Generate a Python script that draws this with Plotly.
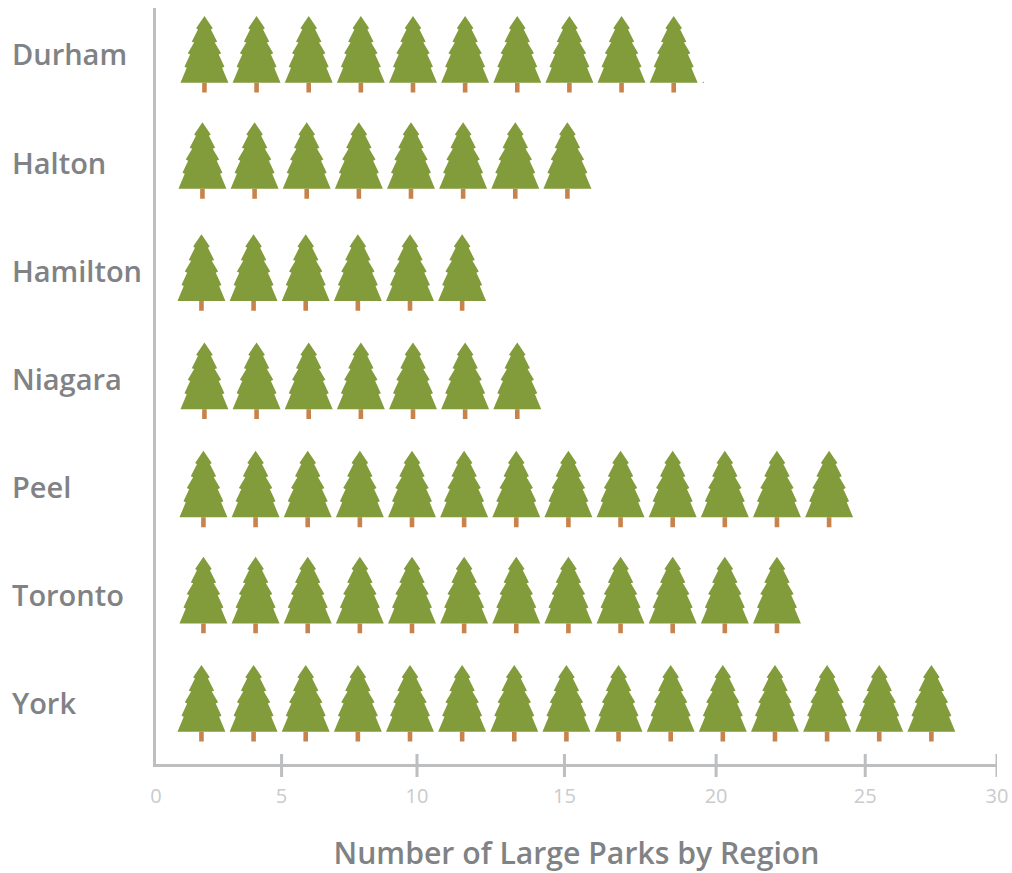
import math
import plotly.graph_objects as go

# ---- data ----
categories = ["Durham", "Halton", "Hamilton", "Niagara", "Peel", "Toronto", "York"]
row_lengths = [19.55, 15.6, 11.85, 13.8, 24.8, 23.0, 28.45]
tick_labels = ["0", "5", "10", "15", "20", "25", "30"]
tick_positions = [0, 4.48, 9.31, 14.57, 19.98, 25.3, 30]

# ---- styling / layout ----
GREEN = "#829b3b"
TRUNK = "#c8824b"
AXIS = "#bcbec0"
LABEL = "#808285"
TICK = "#c9cbcd"
FONT = "Open Sans"

W, H = 1012, 873
L, R, T, B = 155.5, 14.5, 8, 109
PX_X = (W - L - R) / 30.0                  # pixels per x unit
PX_Y = 108.17                              # pixels per category row
Y_TOP, Y_BOTTOM = -0.425, 6.564

TREE_STEP = 52.2 / PX_X
TREE_START = 47.5 / PX_X
row_dx = [1, -1, -2, 1, 0, 0, -2]          # small per-row nudges (px)
row_dy = [0, -2, 2, 2, 2, 0, 0]

# half of a tree's outline, in px around its centre (right side, apex to base)
outline = [(0, -38), (8.3, -25.7), (6.5, -24.5), (12.7, -12.3), (10.3, -11.5),
           (16.7, -0.7), (14.3, 0.5), (20, 12.7), (17.7, 13.7), (24, 28.7)]
TRUNK_HALF, TRUNK_TOP, TRUNK_END = 2.3, 28.7, 38.5


def tree_polygons(row, idx):
    cx = TREE_START + idx * TREE_STEP + row_dx[row] / PX_X
    cy = row + row_dy[row] / PX_Y
    right = [(cx + dx / PX_X, cy + dy / PX_Y) for dx, dy in outline]
    left = [(cx - dx / PX_X, cy + dy / PX_Y) for dx, dy in reversed(outline[1:])]
    crown = right + left + [right[0]]
    trunk = [(cx + sx * TRUNK_HALF / PX_X, cy + dy / PX_Y)
             for sx, dy in [(-1, TRUNK_TOP), (1, TRUNK_TOP), (1, TRUNK_END),
                            (-1, TRUNK_END), (-1, TRUNK_TOP)]]
    return crown, trunk


crown_x, crown_y, trunk_x, trunk_y = [], [], [], []
for r, length in enumerate(row_lengths):
    n = math.floor(length / TREE_STEP)
    for i in range(n):
        crown, trunk = tree_polygons(r, i)
        crown_x += [p[0] for p in crown] + [None]
        crown_y += [p[1] for p in crown] + [None]
        trunk_x += [p[0] for p in trunk] + [None]
        trunk_y += [p[1] for p in trunk] + [None]
    # a row that runs past the last whole tree shows a clipped sliver of the next
    crown, _ = tree_polygons(r, n)
    edge = min(p[0] for p in crown)
    base = max(p[1] for p in crown)
    if length > edge:
        rise = (length - edge) * PX_X * 0.5 / PX_Y
        crown_x += [edge, length, length, edge, None]
        crown_y += [base, base, base - rise, base, None]

fig = go.Figure()
fig.add_trace(go.Scatter(x=trunk_x, y=trunk_y, mode="lines", fill="toself",
                         fillcolor=TRUNK, line=dict(width=0, color=TRUNK),
                         hoverinfo="skip", showlegend=False))
fig.add_trace(go.Scatter(x=crown_x, y=crown_y, mode="lines", fill="toself",
                         fillcolor=GREEN, line=dict(width=0, color=GREEN),
                         hoverinfo="skip", showlegend=False))

for i, name in enumerate(categories):
    fig.add_annotation(text=name, xref="paper", yref="y", x=-(L - 9) / (W - L - R), y=i,
                       xanchor="left", yanchor="middle", showarrow=False, align="left",
                       font=dict(family=FONT, size=29, color=LABEL, weight=600))

for pos in tick_positions[1:]:
    fig.add_shape(type="line", xref="x", yref="paper", x0=pos, x1=pos,
                  y0=10 / (H - T - B), y1=-13 / (H - T - B),
                  line=dict(color=AXIS, width=3))

fig.update_layout(
    width=W, height=H, margin=dict(l=L, r=R, t=T, b=B, autoexpand=False),
    paper_bgcolor="white", plot_bgcolor="white", showlegend=False,
    xaxis=dict(range=[0, 30], tickmode="array", tickvals=tick_positions, ticktext=tick_labels,
               showgrid=False, zeroline=False, showline=True, linecolor=AXIS, linewidth=3,
               ticks="outside", ticklen=12, tickcolor="rgba(0,0,0,0)",
               tickfont=dict(family=FONT, size=20, color=TICK),
               title=dict(text="Number of Large Parks by Region", standoff=38,
                          font=dict(family=FONT, size=30.2, color=LABEL, weight=600))),
    yaxis=dict(range=[Y_BOTTOM, Y_TOP], tickmode="array", tickvals=list(range(len(categories))),
               showticklabels=False, showgrid=False, zeroline=False, showline=True,
               linecolor=AXIS, linewidth=3, ticks=""),
)
fig.write_html("out.html", config={"displayModeBar": False},
               post_script="document.body.style.margin='0';document.body.style.overflow='hidden';")
